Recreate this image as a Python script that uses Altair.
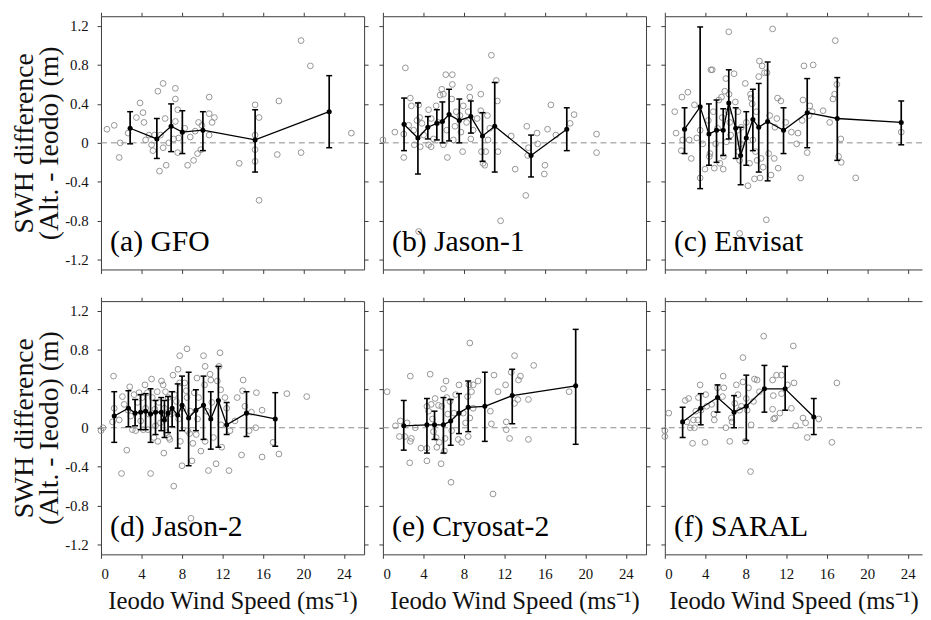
import altair as alt
import pandas as pd

# ---------------- data ----------------
LABELS = ["(a) GFO", "(b) Jason-1", "(c) Envisat", "(d) Jason-2", "(e) Cryosat-2", "(f) SARAL"]
X_TICKS = [0, 4, 8, 12, 16, 20, 24]
Y_TICKS = [-1.2, -0.8, -0.4, 0, 0.4, 0.8, 1.2]
X_TITLE = "Ieodo Wind Speed (ms\u207b\u00b9)"
Y_TITLE = ["SWH difference", "(Alt. - Ieodo) (m)"]

a_x = [0.59,1.31,1.90,1.80,2.68,3.50,3.86,4.15,4.25,4.41,4.74,5.00,5.13,5.29,5.62,5.78,5.88,6.14,6.14,6.34,6.44,6.70,7.19,7.35,7.35,7.35,7.58,7.58,7.68,8.27,8.56,8.82,9.15,9.31,9.54,9.64,9.87,9.97,10.69,10.69,10.69,10.98,11.21,13.66,15.23,15.23,15.23,15.23,15.62,15.62,17.58,17.42,19.77,19.77,20.69,24.74]
a_y = [0.14,0.18,0.00,-0.15,0.10,0.26,0.41,0.31,0.21,0.03,0.08,-0.02,-0.08,0.08,0.53,-0.29,0.08,0.61,-0.05,0.25,-0.23,0.00,0.04,0.56,0.45,0.22,0.34,-0.10,0.05,0.15,-0.23,0.06,-0.18,0.12,-0.11,0.21,-0.07,0.18,0.47,0.30,0.08,0.21,0.26,-0.21,0.39,0.08,-0.07,-0.19,0.26,-0.59,0.43,-0.12,1.05,-0.10,0.79,0.10]
a_mx = [2.88,5.52,6.93,8.04,10.07,15.23,22.55]
a_my = [0.15,0.04,0.17,0.11,0.13,0.03,0.32]
a_hi = [0.32,0.25,0.40,0.33,0.32,0.34,0.69]
a_lo = [-0.01,-0.16,-0.09,-0.11,-0.08,-0.30,-0.05]

b_x = [0.0,1.18,2.06,2.22,2.06,2.71,2.81,2.55,3.04,3.10,3.37,3.53,3.63,3.69,3.86,4.02,4.51,4.51,4.77,4.77,5.00,5.26,5.42,5.65,5.82,5.98,5.98,6.21,6.31,6.37,6.86,6.86,6.80,6.96,7.12,7.25,7.61,7.71,7.88,7.94,8.27,8.43,8.56,8.59,8.69,8.92,9.31,9.67,9.67,9.74,9.90,10.07,10.16,10.33,10.39,10.56,10.72,11.21,11.31,11.37,11.63,12.68,13.07,14.22,14.12,14.31,14.38,15.23,15.29,16.01,15.95,16.27,16.60,17.09,18.50,18.89,21.11,21.11,3.53]
b_y = [0.03,0.11,-0.15,0.77,0.09,0.46,0.38,0.18,0.13,-0.02,0.23,0.39,0.26,-0.04,0.20,0.08,0.34,-0.02,0.25,-0.04,0.04,0.38,0.21,0.49,0.55,0.50,-0.02,0.70,0.13,-0.15,0.70,0.60,0.45,0.03,0.17,0.32,0.28,0.11,-0.09,0.38,0.21,0.32,0.57,0.47,0.04,0.13,0.25,0.50,0.33,-0.09,-0.21,-0.23,-0.09,0.28,0.03,0.15,0.90,0.64,0.43,-0.09,-0.80,0.07,-0.27,0.17,-0.54,-0.13,-0.05,0.10,-0.01,-0.23,-0.32,0.14,0.39,0.08,0.20,0.29,0.09,-0.10,-0.91]
b_mx = [2.09,3.46,4.44,5.33,5.88,6.54,7.55,8.69,9.84,11.05,14.64,18.17]
b_my = [0.19,0.05,0.16,0.20,0.22,0.29,0.23,0.27,0.07,0.17,-0.13,0.14]
b_hi = [0.46,0.41,0.27,0.34,0.42,0.55,0.45,0.43,0.31,0.62,0.08,0.36]
b_lo = [-0.08,-0.32,0.04,0.03,0.00,0.02,0.00,0.10,-0.19,-0.30,-0.35,-0.08]

c_x = [0.98,1.11,1.63,1.69,1.76,2.28,2.41,2.61,2.93,3.16,3.49,3.49,3.75,3.97,4.30,4.40,4.46,4.56,4.69,4.79,4.89,5.02,5.21,5.34,5.44,5.60,5.67,5.77,5.80,5.93,6.03,6.09,6.25,6.32,6.35,6.42,6.51,6.84,6.97,7.17,7.23,7.30,7.39,7.49,7.56,7.95,8.05,8.21,8.37,8.47,8.53,8.63,8.70,8.86,8.96,9.05,9.12,9.28,9.35,9.41,9.51,9.61,9.71,9.84,10.03,10.10,10.26,10.36,10.49,10.65,10.81,10.88,11.07,11.14,11.20,11.47,11.95,12.51,13.03,13.16,13.42,13.58,13.65,13.75,14.07,14.23,14.33,14.56,14.66,15.64,16.29,16.61,16.78,16.84,17.00,17.17,17.39,17.43,18.86,23.36,7.39]
c_y = [0.32,0.10,-0.08,0.47,0.03,0.52,0.03,-0.16,0.39,0.05,-0.36,0.13,-0.01,-0.27,0.23,-0.14,-0.11,0.75,0.75,0.32,-0.26,-0.01,0.15,0.44,-0.21,0.47,0.26,-0.27,-0.14,0.53,0.66,0.01,0.32,1.14,0.50,0.21,0.08,0.71,0.42,0.13,0.32,-0.09,-0.18,-0.01,0.16,0.61,0.21,-0.44,-0.21,0.50,0.46,0.40,0.03,-0.37,-0.09,0.32,-0.18,0.68,0.84,-0.36,-0.16,0.79,-0.25,0.72,-0.79,0.72,-0.11,0.28,-0.33,1.17,-0.16,0.16,0.25,0.46,-0.26,0.43,0.21,0.11,-0.01,0.10,-0.36,0.23,0.44,0.79,-0.10,0.28,0.38,0.32,0.80,0.33,0.21,0.45,0.50,1.05,0.60,-0.14,0.04,-0.20,-0.36,0.11,-0.93]
c_mx = [1.95,3.49,4.36,5.11,5.77,6.32,7.00,7.49,8.05,8.70,9.28,10.16,11.73,14.07,17.04,23.36]
c_my = [0.14,0.37,0.09,0.13,0.13,0.41,0.15,-0.13,0.05,0.24,0.16,0.22,0.13,0.31,0.25,0.21]
c_hi = [0.36,1.19,0.40,0.44,0.35,0.75,0.36,0.16,0.32,0.55,0.61,0.83,0.36,0.66,0.67,0.43]
c_lo = [-0.11,-0.47,-0.23,-0.20,-0.13,0.04,-0.16,-0.43,-0.23,-0.08,-0.30,-0.39,-0.11,-0.05,-0.18,-0.02]

d_x = [0.0,0.2,1.24,1.14,1.31,1.80,2.03,2.12,2.29,2.55,2.68,2.84,2.94,3.10,3.27,3.43,3.59,3.76,3.92,4.08,4.18,4.35,4.41,4.58,4.64,4.74,4.90,5.00,5.07,5.23,5.33,5.39,5.56,5.62,5.72,5.88,5.98,6.14,6.21,6.27,6.37,6.47,6.63,6.70,6.80,6.96,7.12,7.19,7.25,7.45,7.61,7.68,7.78,7.78,7.84,8.01,8.10,8.27,8.43,8.50,8.50,8.56,8.76,8.82,8.99,9.08,8.89,9.22,9.41,9.48,9.54,9.64,9.87,10.13,10.29,10.23,10.29,10.46,10.62,10.78,10.85,10.95,11.11,11.37,11.50,11.67,11.76,11.86,11.83,11.93,12.25,12.42,12.65,12.75,13.24,13.46,13.89,14.05,13.99,14.22,14.64,14.87,15.36,15.29,15.92,15.92,17.00,17.58,18.37,20.33]
d_y = [-0.03,0.0,0.53,0.06,0.20,0.08,-0.47,0.32,0.24,-0.23,0.18,0.42,0.12,-0.02,0.34,-0.03,0.26,0.36,0.07,0.31,-0.02,0.44,0.20,0.36,-0.02,0.14,-0.47,0.50,0.31,-0.10,0.19,0.02,0.37,-0.14,0.26,0.05,0.48,0.44,-0.26,0.20,0.37,-0.05,0.31,-0.10,-0.12,0.14,0.54,-0.60,0.34,0.27,0.60,0.09,0.74,0.46,-0.14,-0.39,0.20,0.46,0.38,0.81,0.31,-0.03,-0.06,0.17,-0.34,-0.16,-0.93,0.36,-0.07,0.51,0.09,0.31,-0.24,0.74,0.63,0.44,-0.14,0.17,-0.44,0.55,0.49,0.26,-0.10,-0.37,0.48,0.63,0.77,0.03,0.39,-0.20,0.31,0.20,-0.44,-0.03,0.07,0.31,-0.28,0.49,0.38,0.22,-0.03,0.16,0.36,0.0,0.18,-0.30,-0.15,-0.27,0.35,0.32]
d_mx = [1.31,2.71,3.37,3.92,4.41,4.90,5.39,5.95,6.27,6.63,7.03,7.58,8.01,8.66,9.38,10.13,10.85,11.60,12.42,14.38,17.22]
d_my = [0.12,0.20,0.15,0.16,0.17,0.14,0.16,0.16,0.08,0.15,0.20,0.13,0.23,0.10,0.18,0.23,0.09,0.28,0.03,0.15,0.09]
d_hi = [0.37,0.38,0.29,0.34,0.35,0.40,0.28,0.31,0.28,0.32,0.37,0.45,0.53,0.57,0.39,0.53,0.37,0.63,0.26,0.37,0.36]
d_lo = [-0.15,0.01,0.02,-0.02,-0.02,-0.15,-0.07,-0.03,-0.10,-0.05,0.01,-0.21,-0.03,-0.39,-0.03,-0.12,-0.22,-0.20,-0.07,-0.09,-0.19]

e_x = [0.42,1.24,1.73,1.63,2.16,2.39,2.65,2.71,2.81,2.71,3.20,3.76,4.35,4.35,4.35,4.51,4.67,4.77,4.90,5.00,5.16,5.26,5.33,5.49,5.56,5.75,5.82,5.98,6.08,6.14,6.24,6.31,6.41,6.63,6.73,6.80,7.03,7.19,7.45,7.52,7.78,7.94,8.17,8.37,8.43,8.50,8.59,8.59,8.76,8.92,8.92,9.41,10.62,10.72,10.88,10.98,11.37,12.12,12.19,12.19,12.52,12.68,13.01,13.01,13.33,13.40,13.59,14.38,14.38,14.90,18.40]
e_y = [0.37,0.02,0.07,-0.09,-0.09,0.05,-0.36,0.53,-0.11,-0.14,0.0,-0.21,-0.34,0.22,-0.21,0.17,0.55,0.24,0.09,-0.04,0.30,-0.10,-0.20,0.23,-0.15,-0.37,0.22,0.40,-0.24,-0.11,0.48,0.31,0.14,0.27,-0.56,-0.03,0.15,0.34,-0.12,0.44,-0.15,0.15,0.05,0.32,-0.09,0.44,0.87,0.10,0.37,0.44,0.20,0.48,0.17,0.04,-0.68,0.54,0.37,0.44,0.06,-0.02,-0.11,0.57,0.74,0.25,0.29,0.49,0.53,0.29,-0.12,0.64,0.37]
e_mx = [2.06,4.35,5.10,5.98,6.70,7.52,8.43,10.07,12.78,19.05]
e_my = [0.02,0.03,0.03,0.03,0.07,0.15,0.21,0.22,0.33,0.43]
e_hi = [0.28,0.30,0.17,0.31,0.29,0.35,0.48,0.57,0.60,1.01]
e_lo = [-0.23,-0.26,-0.12,-0.26,-0.18,-0.06,-0.04,-0.14,0.04,-0.17]

f_x = [0.0,0.0,0.39,2.02,2.35,2.18,2.51,2.74,2.83,2.93,3.06,3.26,3.32,3.49,3.58,3.97,4.04,4.14,4.63,4.85,4.89,5.21,5.70,5.77,5.83,6.03,6.42,6.58,6.64,6.91,7.07,7.23,7.39,7.56,7.72,7.72,7.95,8.05,8.14,8.27,8.47,8.53,8.76,8.86,9.12,9.35,9.77,10.65,10.72,10.65,10.75,10.88,11.04,11.37,11.53,11.53,12.12,12.51,12.70,12.77,12.93,13.65,13.91,14.07,15.21,16.51,17.00]
f_y = [-0.03,-0.09,0.15,0.28,0.30,0.06,0.0,-0.16,0.08,0.0,0.17,0.08,0.31,0.44,0.18,-0.15,0.34,0.22,0.24,0.14,0.08,0.41,0.32,0.53,0.41,0.0,-0.14,0.10,0.06,0.25,0.44,0.34,0.18,0.22,0.72,0.47,-0.14,0.30,0.18,0.41,-0.45,0.03,0.27,0.50,0.49,0.37,0.94,0.49,0.33,0.19,0.09,0.10,0.54,0.15,0.54,0.35,0.44,0.20,0.84,0.46,0.02,0.10,0.05,-0.10,0.09,-0.15,0.46]
f_mx = [1.76,3.55,5.21,6.84,8.05,9.84,11.89,14.72]
f_my = [0.06,0.20,0.31,0.16,0.22,0.40,0.40,0.11]
f_hi = [0.21,0.35,0.44,0.33,0.54,0.64,0.63,0.30]
f_lo = [-0.10,0.03,0.16,0.00,-0.13,0.16,0.18,-0.07]

# ---------------- styling / layout ----------------
FONT = "Liberation Serif"
W, H = 266, 256
XMAX = 26.0
W3 = 260
Y_DOMAIN = [-1.3, 1.3]
AX = "#3c3c3c"
Y_LABEL_EXPR = "datum.value == 0 ? '0' : (datum.value < 0 ? '-' : '') + format(abs(datum.value), '.1f')"


def axis_common(**kw):
    base = dict(grid=False, domainColor=AX, tickColor=AX, tickSize=4, domainWidth=1,
                tickWidth=1, labelFont=FONT, labelFontSize=15, labelColor="#111111",
                titleFont=FONT, titleFontSize=25, titleFontWeight="normal",
                titleColor="#111111")
    base.update(kw)
    return alt.Axis(**base)


def panel(label, sx, sy, mx, my, lo, hi, row, col):
    width = W if col < 2 else W3
    xmax = XMAX if col < 2 else XMAX * W3 / W
    xs = alt.Scale(domain=[0, xmax], nice=False, zero=False)
    ys = alt.Scale(domain=Y_DOMAIN, nice=False, zero=False)
    pts = pd.DataFrame({"x": sx, "y": sy})
    mdf = pd.DataFrame({"x": mx, "y": my, "lo": lo, "hi": hi})

    if row == 1:
        x_bottom = axis_common(orient="bottom", values=X_TICKS, format="d",
                               labelPadding=8, title=X_TITLE, titlePadding=8)
    else:
        x_bottom = axis_common(orient="bottom", values=X_TICKS, labels=False, title=None)
    x_top = axis_common(orient="top", values=X_TICKS, labels=False, title=None,
                        minExtent=4, maxExtent=4)
    if col == 0:
        y_left = axis_common(orient="left", values=Y_TICKS, labelExpr=Y_LABEL_EXPR,
                             labelPadding=9, title=Y_TITLE, titlePadding=1,
                             titleFontSize=28, titleLineHeight=25)
    else:
        y_left = axis_common(orient="left", values=Y_TICKS, labels=False, title=None)
    y_right = axis_common(orient="right", values=Y_TICKS, labels=False, title=None) if col < 2 else None

    scatter = alt.Chart(pts).mark_point(shape="circle", filled=False, color="#8a8a8a",
                                        size=34, strokeWidth=0.9, opacity=1).encode(
        x=alt.X("x:Q", scale=xs, axis=x_bottom),
        y=alt.Y("y:Q", scale=ys, axis=y_left),
    )
    zero = alt.Chart(pd.DataFrame({"z": [0]})).mark_rule(
        color="#8c8c8c", strokeDash=[6, 4], strokeWidth=1).encode(
        y=alt.Y("z:Q", scale=ys, axis=None)
    )
    line = alt.Chart(mdf).mark_line(color="black", strokeWidth=1.3).encode(
        x=alt.X("x:Q", scale=xs, axis=x_top),
        y=alt.Y("y:Q", scale=ys, axis=y_right),
    )
    err = alt.Chart(mdf).mark_rule(color="black", strokeWidth=1.7).encode(
        x=alt.X("x:Q", scale=xs, axis=None),
        y=alt.Y("lo:Q", scale=ys, axis=None),
        y2="hi:Q",
    )
    caps = alt.Chart(mdf).transform_fold(["lo", "hi"], as_=["k", "v"]).mark_tick(
        color="black", orient="horizontal", size=6, thickness=1.5, opacity=1).encode(
        x=alt.X("x:Q", scale=xs, axis=None),
        y=alt.Y("v:Q", scale=ys, axis=None),
    )
    dots = alt.Chart(mdf).mark_circle(color="black", size=26, opacity=1).encode(
        x=alt.X("x:Q", scale=xs, axis=None),
        y=alt.Y("y:Q", scale=ys, axis=None),
    )
    text = alt.Chart(pd.DataFrame({"t": [label], "tx": [0.9], "ty": [-1.115]})).mark_text(
        align="left", baseline="alphabetic", font=FONT, fontSize=30, color="black").encode(
        x=alt.X("tx:Q", scale=xs, axis=None),
        y=alt.Y("ty:Q", scale=ys, axis=None),
        text="t:N",
    )
    return alt.layer(scatter, zero, line, err, caps, dots, text).resolve_axis(
        x="independent", y="independent").properties(width=width, height=H)


data = [
    (a_x, a_y, a_mx, a_my, a_lo, a_hi),
    (b_x, b_y, b_mx, b_my, b_lo, b_hi),
    (c_x, c_y, c_mx, c_my, c_lo, c_hi),
    (d_x, d_y, d_mx, d_my, d_lo, d_hi),
    (e_x, e_y, e_mx, e_my, e_lo, e_hi),
    (f_x, f_y, f_mx, f_my, f_lo, f_hi),
]
panels = [panel(LABELS[i], *data[i], row=i // 3, col=i % 3) for i in range(6)]

chart = alt.concat(*panels, columns=3, spacing={"row": 32, "column": 19},
                   bounds="flush").properties(
    padding={"left": 3, "top": 0, "right": 0, "bottom": 0},
    background="white",
).configure(font=FONT).configure_axis(labelFont=FONT, titleFont=FONT).configure_view(stroke=None)

chart.save("out.html", embed_options={"renderer": "svg", "actions": False})
